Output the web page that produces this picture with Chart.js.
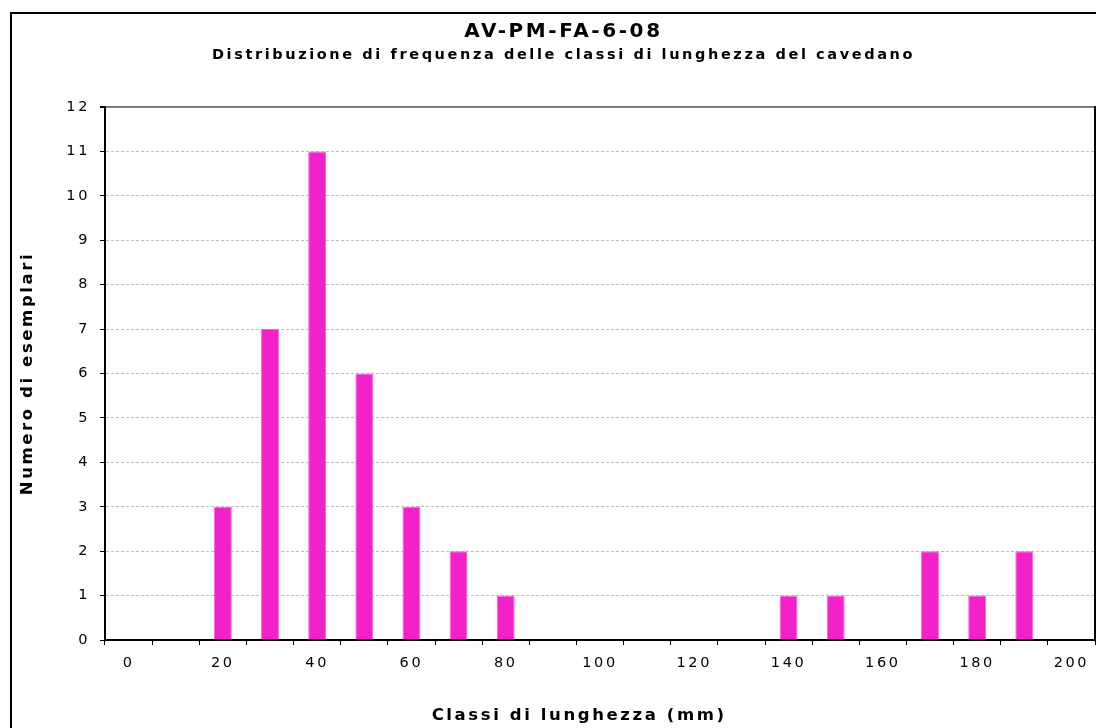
<!DOCTYPE html>
<html>
<head>
<meta charset="utf-8">
<script src="https://cdn.jsdelivr.net/npm/chart.js@4.4.1/dist/chart.umd.min.js"></script>
<style>
  body { margin: 0; background: #fff; }
  #wrap { position: relative; width: 1096px; height: 728px; overflow: hidden; }
  #frame { position: absolute; left: 10px; top: 12px; width: 1200px; height: 800px; border: 2px solid #000; }
  #chart { position: absolute; left: 0; top: 0; }
</style>
</head>
<body>
<div id="wrap">
  <div id="frame"></div>
  <!-- the chart frame is wider than the visible crop, like the original export -->
  <canvas id="chart" width="1127" height="728"></canvas>
</div>
<script>
"use strict";

const chartTitle = "AV-PM-FA-6-08";
const chartSubtitle = "Distribuzione di frequenza delle classi di lunghezza del cavedano";
const xTitle = "Classi di lunghezza (mm)";
const yTitle = "Numero di esemplari";

const lengthClasses = ["0", "10", "20", "30", "40", "50", "60", "70", "80", "90", "100",
                       "110", "120", "130", "140", "150", "160", "170", "180", "190", "200"];
const specimenCounts = [0, 0, 3, 7, 11, 6, 3, 2, 1, 0, 0,
                        0, 0, 0, 1, 1, 0, 2, 1, 2, 0];
const yMax = 12;

const fontFamily = "'DejaVu Sans', Verdana, sans-serif";
const textSpacing = '2.6px';

// the original export has widely spaced text
const letterSpacingPlugin = {
  id: 'letterSpacing',
  beforeLayout(chart) { chart.ctx.letterSpacing = textSpacing; },
  beforeDraw(chart) { chart.ctx.letterSpacing = textSpacing; }
};

const ctx = document.getElementById('chart');

new Chart(ctx, {
  type: 'bar',
  plugins: [letterSpacingPlugin],
  data: {
    labels: lengthClasses,
    datasets: [{
      data: specimenCounts,
      backgroundColor: '#F221C9',
      borderColor: '#F564D6',
      borderWidth: 1,
      borderSkipped: 'bottom',
      barPercentage: 0.38,
      categoryPercentage: 1.0
    }]
  },
  options: {
    responsive: false,
    animation: false,
    layout: { padding: { left: 32, right: 32, top: 0, bottom: 0 } },
    plugins: {
      legend: { display: false },
      tooltip: { enabled: false },
      title: {
        display: true,
        text: chartTitle,
        color: '#000',
        font: { family: fontFamily, size: 20, weight: 'bold' },
        padding: { top: 20, bottom: 0 }
      },
      subtitle: {
        display: true,
        text: chartSubtitle,
        color: '#000',
        font: { family: fontFamily, size: 14.5, weight: 'bold' },
        padding: { top: 3, bottom: 42.6 }
      }
    },
    scales: {
      x: {
        afterFit: scale => { scale.height = 88; },
        grid: {
          drawOnChartArea: false,
          tickLength: 5,
          tickColor: '#000',
          tickWidth: 1
        },
        border: { color: '#000', width: 2 },
        ticks: {
          autoSkip: false,
          maxRotation: 0,
          color: '#000',
          padding: 10,
          font: { family: fontFamily, size: 14.5 },
          callback: (value, index) => index % 2 === 0 ? lengthClasses[index] : ''
        },
        title: {
          display: true,
          // trailing blanks pull the centred title left, as in the original
          text: xTitle + '     ',
          color: '#000',
          font: { family: fontFamily, size: 16.5, weight: 'bold' },
          padding: { top: 0, bottom: 2.5 }
        }
      },
      y: {
        min: 0,
        max: yMax,
        afterFit: scale => { scale.width = 73; },
        grid: {
          color: c => c.tick && c.tick.value === yMax ? '#7a7a7a' : '#bdbdbd',
          lineWidth: c => c.tick && c.tick.value === yMax ? 2 : 1,
          tickLength: 5,
          tickColor: '#000'
        },
        border: {
          color: '#000',
          width: 2,
          dash: c => c.tick && c.tick.value === yMax ? [] : [3, 2]
        },
        ticks: {
          stepSize: 1,
          color: '#000',
          padding: 10,
          font: { family: fontFamily, size: 14.5 }
        },
        title: {
          display: true,
          text: yTitle,
          color: '#000',
          font: { family: fontFamily, size: 16.5, weight: 'bold' },
          padding: { top: -14.4, bottom: 0 }
        }
      },
      yRight: {
        position: 'right',
        min: 0,
        max: yMax,
        grid: { drawOnChartArea: false, drawTicks: false },
        border: { color: '#000', width: 2 },
        ticks: { display: false }
      }
    }
  }
});
</script>
</body>
</html>
